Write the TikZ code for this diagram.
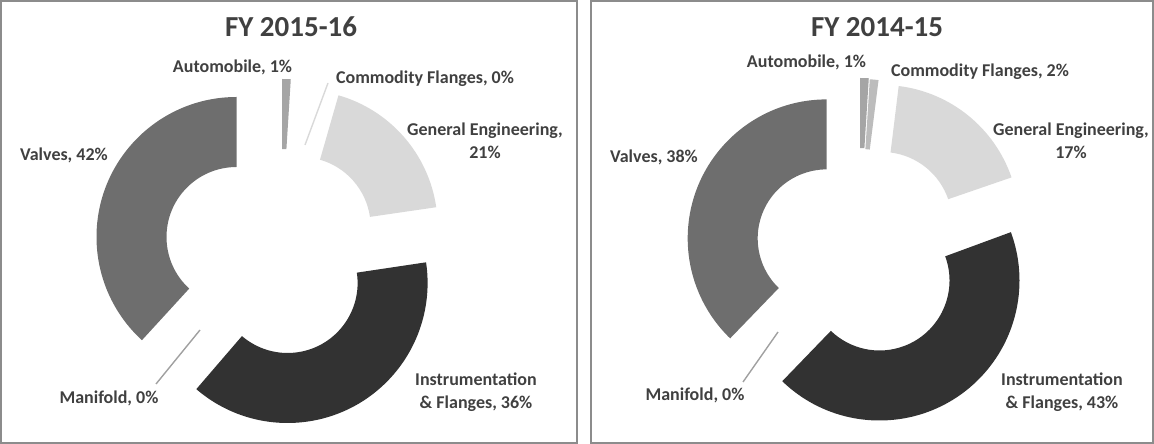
\documentclass[tikz,border=0pt]{standalone}
\usepackage{fontspec}
\setmainfont{Carlito}
\usepackage{tikz}

\definecolor{valvegray}{HTML}{6E6E6E}
\definecolor{instgray}{HTML}{323232}
\definecolor{enggray}{HTML}{D9D9D9}
\definecolor{autogray}{HTML}{A5A5A5}
\definecolor{commgray}{HTML}{BCBCBC}
\definecolor{labelgray}{HTML}{404040}
\definecolor{leadgray}{HTML}{A0A0A0}
\definecolor{framegray}{HTML}{8C8C8C}

\begin{document}
\begin{tikzpicture}[x=1pt,y=1pt,
  lbl/.style={font=\bfseries\fontsize{18}{23}\selectfont, text=labelgray, align=center, inner sep=0pt},
  ttl/.style={font=\bfseries\fontsize{29}{32}\selectfont, text=labelgray, inner sep=0pt},
  leader/.style={draw=leadgray, line width=1.4pt},
  panel/.style={draw=framegray, line width=1.5pt}]
\useasboundingbox (0,0) rectangle (1154,444);

% frames
\draw[panel] (1,1) rectangle (577,443);
\draw[panel] (591,1) rectangle (1153,443);

% slice centres, FY 2015-16
\coordinate (V1) at (236.5,207);
\coordinate (B1) at (287.6,161);
\coordinate (G1) at (300.7,217);
\coordinate (A1) at (282,225);

% slices, FY 2015-16
\fill[valvegray, shift={(V1)}] (90:140) arc[start angle=90, end angle=227.5, radius=140]
  -- (227.5:70) arc[start angle=227.5, end angle=90, radius=70] -- cycle;
\fill[instgray, shift={(B1)}] (-130.7:140) arc[start angle=-130.7, end angle=8.5, radius=140]
  -- (8.5:70) arc[start angle=8.5, end angle=-130.7, radius=70] -- cycle;
\fill[enggray, shift={(G1)}] (8.3:137) arc[start angle=8.3, end angle=74, radius=137]
  -- (74:70) arc[start angle=74, end angle=8.3, radius=70] -- cycle;
\fill[autogray, shift={(A1)}] (86.4:140) arc[start angle=86.4, end angle=90, radius=140]
  -- (90:70) arc[start angle=90, end angle=86.4, radius=70] -- cycle;

% leader lines, FY 2015-16
\coordinate (m1a) at (200,114);
\coordinate (m1b) at (156,60);
\coordinate (c1a) at (305,299);
\coordinate (c1b) at (328,361);
\draw[leader] (m1a) -- (m1b);
\draw[leader, draw=enggray] (c1a) -- (c1b);

% labels, FY 2015-16
\node[ttl] (t1) at (291,417) {FY 2015-16};
\node[lbl] (auto1) at (232.5,377) {Automobile, 1\%};
\node[lbl] (comm1) at (425,365) {Commodity Flanges, 0\%};
\node[lbl] (ge1) at (485,303) {General Engineering,\\21\%};
\node[lbl] (valve1) at (64,289) {Valves, 42\%};
\node[lbl] (man1) at (109,46) {Manifold, 0\%};
\node[lbl] (inst1) at (476,52) {Instrumentation\\\& Flanges, 36\%};

% slice centres, FY 2014-15
\coordinate (V2) at (826.7,205.6);
\coordinate (B2) at (879.5,163.5);
\coordinate (G2) at (882,222);
\coordinate (A2) at (860,226);
\coordinate (C2) at (861,225);

% slices, FY 2014-15
\fill[valvegray, shift={(V2)}] (90:139) arc[start angle=90, end angle=226, radius=139]
  -- (226:69) arc[start angle=226, end angle=90, radius=69] -- cycle;
\fill[instgray, shift={(B2)}] (-134:140) arc[start angle=-134, end angle=20.2, radius=140]
  -- (20.2:70) arc[start angle=20.2, end angle=-134, radius=70] -- cycle;
\fill[enggray, shift={(G2)}] (19:137) arc[start angle=19, end angle=83, radius=137]
  -- (83:70) arc[start angle=83, end angle=19, radius=70] -- cycle;
\fill[autogray, shift={(A2)}] (86.4:140) arc[start angle=86.4, end angle=90, radius=140]
  -- (90:70) arc[start angle=90, end angle=86.4, radius=70] -- cycle;
\fill[commgray, shift={(C2)}] (82.8:140) arc[start angle=82.8, end angle=86.4, radius=140]
  -- (86.4:70) arc[start angle=86.4, end angle=82.8, radius=70] -- cycle;

% leader line, FY 2014-15
\coordinate (m2a) at (778,112);
\coordinate (m2b) at (743,62);
\draw[leader] (m2a) -- (m2b);

% labels, FY 2014-15
\node[ttl] (t2) at (877,417) {FY 2014-15};
\node[lbl] (auto2) at (806.5,382) {Automobile, 1\%};
\node[lbl] (comm2) at (980,372) {Commodity Flanges, 2\%};
\node[lbl] (ge2) at (1071,303) {General Engineering,\\17\%};
\node[lbl] (valve2) at (654,287) {Valves, 38\%};
\node[lbl] (man2) at (695,49) {Manifold, 0\%};
\node[lbl] (inst2) at (1062,52) {Instrumentation\\\& Flanges, 43\%};

\end{tikzpicture}
\end{document}
